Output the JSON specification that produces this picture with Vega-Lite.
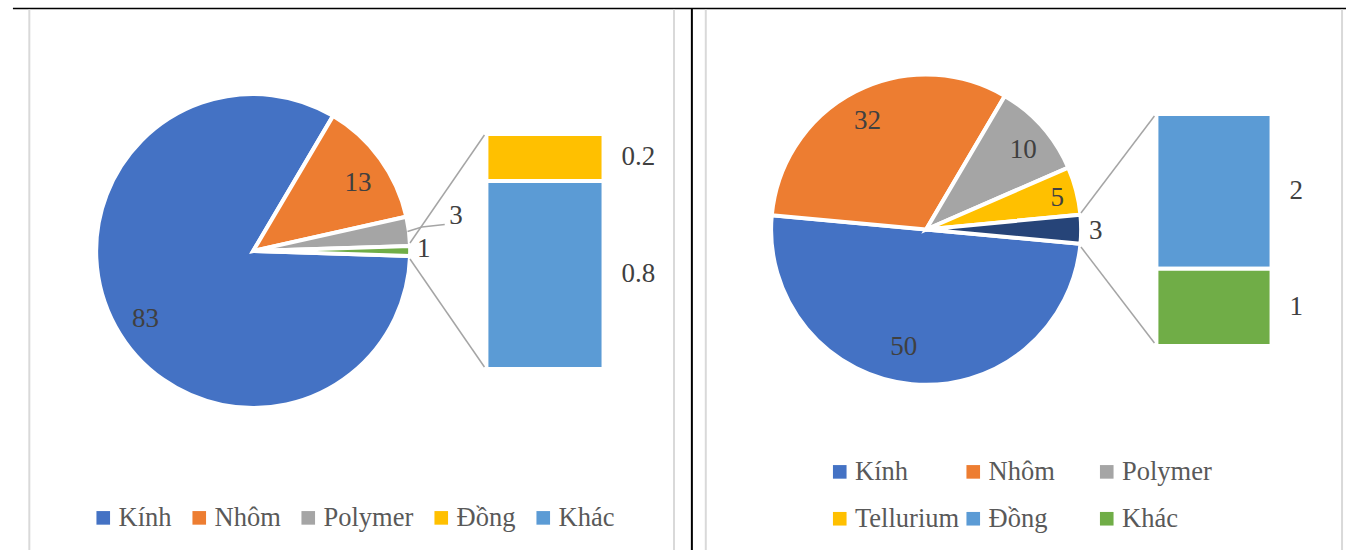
{
  "$schema": "https://vega.github.io/schema/vega-lite/v6.json",
  "width": 1351,
  "height": 550,
  "autosize": {"type": "none"},
  "padding": 0,
  "background": "#ffffff",
  "config": {
    "view": {"stroke": null},
    "axis": {"disable": true},
    "legend": {"padding": 0, "offset": 0}
  },
  "datasets": {
    "leftPie": [
      {"cat": "Kính", "value": 83, "k": 1},
      {"cat": "Nhôm", "value": 13, "k": 2},
      {"cat": "Polymer", "value": 3, "k": 3},
      {"cat": "Khác (gộp)", "value": 1, "k": 4}
    ],
    "leftBar": [
      {"cat": "Đồng", "value": 0.2, "k": 4},
      {"cat": "Khác", "value": 0.8, "k": 5}
    ],
    "rightPie": [
      {"cat": "Kính", "value": 50, "k": 1},
      {"cat": "Nhôm", "value": 32, "k": 2},
      {"cat": "Polymer", "value": 10, "k": 3},
      {"cat": "Tellurium", "value": 5, "k": 4},
      {"cat": "Khác (gộp)", "value": 3, "k": 5}
    ],
    "rightBar": [
      {"cat": "Đồng", "value": 2, "k": 5},
      {"cat": "Khác", "value": 1, "k": 6}
    ],
    "one": [{}]
  },
  "resolve": {"scale": {"y": "independent", "color": "independent", "theta": "independent"}},
  "layer": [
    {
      "data": {"name": "one"},
      "encoding": {
        "y": {"datum": 8.5, "type": "quantitative", "scale": {"domain": [0, 550], "range": [0, 550], "nice": false, "zero": false}, "axis": null}
      },
      "layer": [
        {"mark": {"type": "rule", "stroke": "#000000", "strokeWidth": 1.5},
         "encoding": {"x": {"datum": 8, "type": "quantitative", "scale": {"domain": [0, 1351], "range": [0, 1351], "nice": false, "zero": false}, "axis": null}, "x2": {"datum": 1351}}},
        {"mark": {"type": "rule", "stroke": "#D9D9D9", "strokeWidth": 2},
         "encoding": {"x": {"datum": 24.5, "type": "quantitative"}, "y": {"datum": 9.5, "type": "quantitative"}, "y2": {"datum": 550}}},
        {"mark": {"type": "rule", "stroke": "#D9D9D9", "strokeWidth": 2},
         "encoding": {"x": {"datum": 674, "type": "quantitative"}, "y": {"datum": 9.5, "type": "quantitative"}, "y2": {"datum": 550}}},
        {"mark": {"type": "rule", "stroke": "#D9D9D9", "strokeWidth": 2},
         "encoding": {"x": {"datum": 706, "type": "quantitative"}, "y": {"datum": 9.5, "type": "quantitative"}, "y2": {"datum": 550}}},
        {"mark": {"type": "rule", "stroke": "#D9D9D9", "strokeWidth": 2},
         "encoding": {"x": {"datum": 1347, "type": "quantitative"}, "y": {"datum": 9.5, "type": "quantitative"}, "y2": {"datum": 550}}},
        {"mark": {"type": "rule", "stroke": "#000000", "strokeWidth": 2},
         "encoding": {"x": {"datum": 692, "type": "quantitative"}, "y": {"datum": 8, "type": "quantitative"}, "y2": {"datum": 550}}}
      ]
    },
    {
      "resolve": {"scale": {"y": "independent"}},
      "layer": [
        {
          "data": {"name": "leftPie"},
          "encoding": {
            "theta": {"field": "value", "type": "quantitative", "stack": true, "scale": {"domain": [0, 100], "range": [1.60221, 7.8854]}},
            "order": {"field": "k", "type": "quantitative"},
            "x": {"datum": 250, "type": "quantitative", "axis": null},
            "y": {"datum": 251, "type": "quantitative", "scale": {"domain": [0, 550], "range": [0, 550], "nice": false, "zero": false}, "axis": null}
          },
          "layer": [
            {"mark": {"type": "arc", "outerRadius": 157, "stroke": "#ffffff", "strokeWidth": 4},
             "encoding": {"color": {"field": "cat", "type": "nominal",
               "scale": {"domain": ["Kính", "Nhôm", "Polymer", "Đồng", "Khác", "Khác (gộp)"], "range": ["#4472C4", "#ED7D31", "#A5A5A5", "#FFC000", "#5B9BD5", "#70AD47"]},
               "legend": {"title": null, "orient": "none", "legendX": 90, "legendY": 504.5, "direction": "horizontal", "columns": 5, "values": ["Kính", "Nhôm", "Polymer", "Đồng", "Khác"], "symbolType": "square", "symbolSize": 185, "symbolStrokeWidth": 0, "labelFont": "Liberation Serif", "labelFontSize": 26.5, "labelColor": "#595959", "labelOffset": 2, "columnPadding": 14, "labelLimit": 400}}}},
            {"mark": {"type": "text", "radius": 125, "dx": 2, "dy": 8, "font": "Liberation Serif", "fontSize": 27, "fill": "#404040", "align": "center", "baseline": "middle"},
             "encoding": {"detail": {"field": "cat"}, "text": {"condition": {"test": "datum.cat === 'Kính'", "field": "value", "type": "quantitative"}, "value": ""}}},
            {"mark": {"type": "text", "radius": 126, "dx": 3, "dy": 6, "font": "Liberation Serif", "fontSize": 27, "fill": "#404040", "align": "center", "baseline": "middle"},
             "encoding": {"detail": {"field": "cat"}, "text": {"condition": {"test": "datum.cat === 'Nhôm'", "field": "value", "type": "quantitative"}, "value": ""}}},
            {"mark": {"type": "text", "radius": 206, "dx": -1.5, "dy": -9, "font": "Liberation Serif", "fontSize": 27, "fill": "#404040", "align": "center", "baseline": "middle"},
             "encoding": {"detail": {"field": "cat"}, "text": {"condition": {"test": "datum.cat === 'Polymer'", "field": "value", "type": "quantitative"}, "value": ""}}},
            {"mark": {"type": "text", "radius": 173, "dx": -2.5, "dy": -2, "font": "Liberation Serif", "fontSize": 27, "fill": "#404040", "align": "center", "baseline": "middle"},
             "encoding": {"detail": {"field": "cat"}, "text": {"condition": {"test": "datum.cat === 'Khác (gộp)'", "field": "value", "type": "quantitative"}, "value": ""}}}
          ]
        },
        {
          "data": {"name": "leftBar"},
          "encoding": {
            "y": {"field": "value", "type": "quantitative", "stack": "zero", "scale": {"domain": [0, 1], "range": [369, 134], "nice": false}, "axis": null},
            "order": {"field": "k", "type": "quantitative", "sort": "descending"}
          },
          "layer": [
            {"mark": {"type": "bar", "orient": "vertical", "stroke": "#ffffff", "strokeWidth": 4},
             "encoding": {"x": {"datum": 485, "type": "quantitative"}, "x2": {"datum": 603},
               "color": {"field": "cat", "type": "nominal",
               "scale": {"domain": ["Kính", "Nhôm", "Polymer", "Đồng", "Khác", "Khác (gộp)"], "range": ["#4472C4", "#ED7D31", "#A5A5A5", "#FFC000", "#5B9BD5", "#70AD47"]},
               "legend": {"title": null, "orient": "none", "legendX": 90, "legendY": 504.5, "direction": "horizontal", "columns": 5, "values": ["Kính", "Nhôm", "Polymer", "Đồng", "Khác"], "symbolType": "square", "symbolSize": 185, "symbolStrokeWidth": 0, "labelFont": "Liberation Serif", "labelFontSize": 26.5, "labelColor": "#595959", "labelOffset": 2, "columnPadding": 14, "labelLimit": 400}}}},
            {"mark": {"type": "text", "font": "Liberation Serif", "fontSize": 27, "fill": "#404040", "align": "center", "baseline": "middle", "dy": -1},
             "encoding": {"x": {"datum": 638, "type": "quantitative"},
               "y": {"field": "value", "type": "quantitative", "stack": "zero", "bandPosition": 0.5},
               "detail": {"field": "cat"},
               "text": {"field": "value", "type": "quantitative"}}}
          ]
        },
        {
          "data": {"name": "one"},
          "encoding": {
            "y": {"datum": 243, "type": "quantitative", "scale": {"domain": [0, 550], "range": [0, 550], "nice": false, "zero": false}, "axis": null}
          },
          "layer": [
            {"mark": {"type": "rule", "stroke": "#A5A5A5", "strokeWidth": 1.5},
             "encoding": {"x": {"datum": 408, "type": "quantitative"}, "x2": {"datum": 483}, "y": {"datum": 243, "type": "quantitative"}, "y2": {"datum": 135}}},
            {"mark": {"type": "rule", "stroke": "#A5A5A5", "strokeWidth": 1.5},
             "encoding": {"x": {"datum": 408, "type": "quantitative"}, "x2": {"datum": 483}, "y": {"datum": 259, "type": "quantitative"}, "y2": {"datum": 367}}},
            {"mark": {"type": "rule", "stroke": "#A5A5A5", "strokeWidth": 1.5},
             "encoding": {"x": {"datum": 405.5, "type": "quantitative"}, "x2": {"datum": 420}, "y": {"datum": 231.5, "type": "quantitative"}, "y2": {"datum": 227}}},
            {"mark": {"type": "rule", "stroke": "#A5A5A5", "strokeWidth": 1.5},
             "encoding": {"x": {"datum": 420, "type": "quantitative"}, "x2": {"datum": 443}, "y": {"datum": 227, "type": "quantitative"}, "y2": {"datum": 224.5}}}
          ]
        }
      ]
    },
    {
      "resolve": {"scale": {"y": "independent"}},
      "layer": [
        {
          "data": {"name": "rightPie"},
          "encoding": {
            "theta": {"field": "value", "type": "quantitative", "stack": true, "scale": {"domain": [0, 100], "range": [1.6633, 7.94649]}},
            "order": {"field": "k", "type": "quantitative"},
            "x": {"datum": 928, "type": "quantitative", "axis": null},
            "y": {"datum": 229.5, "type": "quantitative", "scale": {"domain": [0, 550], "range": [0, 550], "nice": false, "zero": false}, "axis": null}
          },
          "layer": [
            {"mark": {"type": "arc", "outerRadius": 155, "stroke": "#ffffff", "strokeWidth": 4},
             "encoding": {"color": {"field": "cat", "type": "nominal",
               "scale": {"domain": ["Kính", "Nhôm", "Polymer", "Tellurium", "Đồng", "Khác", "Khác (gộp)"], "range": ["#4472C4", "#ED7D31", "#A5A5A5", "#FFC000", "#5B9BD5", "#70AD47", "#264478"]},
               "legend": {"title": null, "orient": "none", "legendX": 826.5, "legendY": 458.5, "direction": "horizontal", "columns": 3, "gridAlign": "all", "values": ["Kính", "Nhôm", "Polymer", "Tellurium", "Đồng", "Khác"], "symbolType": "square", "symbolSize": 185, "symbolStrokeWidth": 0, "labelFont": "Liberation Serif", "labelFontSize": 26.5, "labelColor": "#595959", "labelOffset": 2, "columnPadding": 0.5, "rowPadding": 20, "labelLimit": 400}}}},
            {"mark": {"type": "text", "radius": 119, "dx": -11.3, "dy": -1, "font": "Liberation Serif", "fontSize": 27, "fill": "#404040", "align": "center", "baseline": "middle"},
             "encoding": {"detail": {"field": "cat"}, "text": {"condition": {"test": "datum.cat === 'Kính'", "field": "value", "type": "quantitative"}, "value": ""}}},
            {"mark": {"type": "text", "radius": 124.5, "dx": -2, "dy": 2.3, "font": "Liberation Serif", "fontSize": 27, "fill": "#404040", "align": "center", "baseline": "middle"},
             "encoding": {"detail": {"field": "cat"}, "text": {"condition": {"test": "datum.cat === 'Nhôm'", "field": "value", "type": "quantitative"}, "value": ""}}},
            {"mark": {"type": "text", "radius": 125.5, "dx": 3, "dy": 4, "font": "Liberation Serif", "fontSize": 27, "fill": "#404040", "align": "center", "baseline": "middle"},
             "encoding": {"detail": {"field": "cat"}, "text": {"condition": {"test": "datum.cat === 'Polymer'", "field": "value", "type": "quantitative"}, "value": ""}}},
            {"mark": {"type": "text", "radius": 134.6, "dx": 0.7, "dy": 2, "font": "Liberation Serif", "fontSize": 27, "fill": "#404040", "align": "center", "baseline": "middle"},
             "encoding": {"detail": {"field": "cat"}, "text": {"condition": {"test": "datum.cat === 'Tellurium'", "field": "value", "type": "quantitative"}, "value": ""}}},
            {"mark": {"type": "text", "radius": 168.5, "dx": 1, "dy": 2, "font": "Liberation Serif", "fontSize": 27, "fill": "#404040", "align": "center", "baseline": "middle"},
             "encoding": {"detail": {"field": "cat"}, "text": {"condition": {"test": "datum.cat === 'Khác (gộp)'", "field": "value", "type": "quantitative"}, "value": ""}}}
          ]
        },
        {
          "data": {"name": "rightBar"},
          "encoding": {
            "y": {"field": "value", "type": "quantitative", "stack": "zero", "scale": {"domain": [0, 3], "range": [346, 114], "nice": false}, "axis": null},
            "order": {"field": "k", "type": "quantitative", "sort": "descending"}
          },
          "layer": [
            {"mark": {"type": "bar", "orient": "vertical", "stroke": "#ffffff", "strokeWidth": 4},
             "encoding": {"x": {"datum": 1160, "type": "quantitative"}, "x2": {"datum": 1276},
               "color": {"field": "cat", "type": "nominal",
               "scale": {"domain": ["Kính", "Nhôm", "Polymer", "Tellurium", "Đồng", "Khác", "Khác (gộp)"], "range": ["#4472C4", "#ED7D31", "#A5A5A5", "#FFC000", "#5B9BD5", "#70AD47", "#264478"]},
               "legend": {"title": null, "orient": "none", "legendX": 826.5, "legendY": 458.5, "direction": "horizontal", "columns": 3, "gridAlign": "all", "values": ["Kính", "Nhôm", "Polymer", "Tellurium", "Đồng", "Khác"], "symbolType": "square", "symbolSize": 185, "symbolStrokeWidth": 0, "labelFont": "Liberation Serif", "labelFontSize": 26.5, "labelColor": "#595959", "labelOffset": 2, "columnPadding": 0.5, "rowPadding": 20, "labelLimit": 400}}}},
            {"mark": {"type": "text", "font": "Liberation Serif", "fontSize": 27, "fill": "#404040", "align": "center", "baseline": "middle", "dy": 0},
             "encoding": {"x": {"datum": 1301, "type": "quantitative"},
               "y": {"field": "value", "type": "quantitative", "stack": "zero", "bandPosition": 0.5},
               "detail": {"field": "cat"},
               "text": {"field": "value", "type": "quantitative"}}}
          ]
        },
        {
          "data": {"name": "one"},
          "encoding": {
            "y": {"datum": 213, "type": "quantitative", "scale": {"domain": [0, 550], "range": [0, 550], "nice": false, "zero": false}, "axis": null}
          },
          "layer": [
            {"mark": {"type": "rule", "stroke": "#A5A5A5", "strokeWidth": 1.5},
             "encoding": {"x": {"datum": 1084, "type": "quantitative"}, "x2": {"datum": 1158}, "y": {"datum": 213, "type": "quantitative"}, "y2": {"datum": 116}}},
            {"mark": {"type": "rule", "stroke": "#A5A5A5", "strokeWidth": 1.5},
             "encoding": {"x": {"datum": 1084, "type": "quantitative"}, "x2": {"datum": 1158}, "y": {"datum": 247, "type": "quantitative"}, "y2": {"datum": 343}}}
          ]
        }
      ]
    }
  ]
}
